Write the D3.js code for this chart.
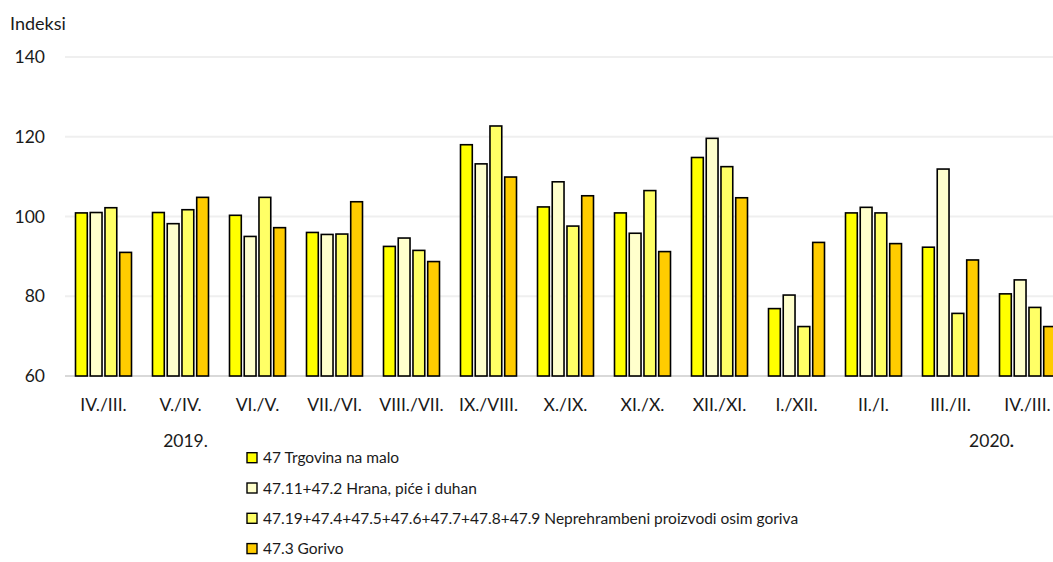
<!DOCTYPE html>
<html>
<head>
<meta charset="utf-8">
<script src="https://cdn.jsdelivr.net/npm/d3@7"></script>
<style>
  body { margin: 0; background: #fff; }
  svg text { font-family: Lato, "Open Sans", sans-serif; fill: #1a1a1a; }
</style>
</head>
<body>
<div id="chart"></div>
<script>
// categories (month over previous month)
const categories = ["IV./III.", "V./IV.", "VI./V.", "VII./VI.", "VIII./VII.", "IX./VIII.", "X./IX.",
  "XI./X.", "XII./XI.", "I./XII.", "II./I.", "III./II.", "IV./III."];

const seriesNames = [
  "47 Trgovina na malo",
  "47.11+47.2 Hrana, piće i duhan",
  "47.19+47.4+47.5+47.6+47.7+47.8+47.9 Neprehrambeni proizvodi osim goriva",
  "47.3 Gorivo"
];

const retail   = [100.9, 101.0, 100.3, 96.0, 92.5, 118.0, 102.4, 100.9, 114.8, 76.9, 100.9, 92.3, 80.6];
const food     = [101.0, 98.2, 95.0, 95.5, 94.6, 113.2, 108.7, 95.8, 119.6, 80.3, 102.3, 111.9, 84.1];
const nonFood  = [102.2, 101.7, 104.8, 95.6, 91.5, 122.7, 97.6, 106.5, 112.5, 72.4, 100.9, 75.7, 77.2];
const fuel     = [91.0, 104.8, 97.2, 103.7, 88.7, 109.9, 105.2, 91.2, 104.7, 93.5, 93.2, 89.1, 72.4];

const yTicks = [60, 80, 100, 120, 140];
const yearLabels = [{ text: "2019", index: 1 }, { text: "2020", index: 12 }];

const colors = ["#ffff00", "#ffffcc", "#ffff66", "#ffcc00"];

const width = 1053, height = 562;
const margin = { top: 57, left: 65, bottom: 186 };

const series = [retail, food, nonFood, fuel];

const svg = d3.select("#chart").append("svg")
  .attr("width", width)
  .attr("height", height);

// band scale runs past the right edge, like the cropped original
const step = 77;
const x = d3.scaleBand()
  .domain(d3.range(categories.length))
  .range([margin.left, margin.left + step * categories.length])
  .paddingInner(0).paddingOuter(0);

const xInner = d3.scaleBand()
  .domain(d3.range(series.length))
  .range([x.bandwidth() / 2 - 28, x.bandwidth() / 2 + 28])
  .paddingInner(0.2).paddingOuter(0);

const y = d3.scaleLinear()
  .domain([60, 140])
  .range([height - margin.bottom, margin.top]);

// gridlines
svg.append("g")
  .selectAll("line")
  .data(yTicks)
  .join("line")
    .attr("x1", margin.left)
    .attr("x2", width)
    .attr("y1", d => y(d))
    .attr("y2", d => y(d))
    .attr("stroke", d => d === 60 ? "#d9d9d9" : "#efefef")
    .attr("stroke-width", 2);

// y axis labels
const yAxis = d3.axisLeft(y).tickValues(yTicks).tickSize(0).tickPadding(0);
svg.append("g")
  .attr("transform", `translate(45,0)`)
  .call(yAxis)
  .call(g => g.select(".domain").remove())
  .call(g => g.selectAll("text").attr("font-size", 17.5).style("font-family", "Lato, sans-serif").attr("fill", "#1a1a1a"));

svg.append("text")
  .attr("x", 10)
  .attr("y", 30)
  .attr("font-size", 18)
  .text("Indeksi");

// bars
const groups = svg.append("g")
  .selectAll("g")
  .data(categories.map((c, i) => series.map((s, k) => ({ k, v: s[i] }))))
  .join("g")
    .attr("transform", (d, i) => `translate(${x(i)},0)`);

groups.selectAll("rect")
  .data(d => d)
  .join("rect")
    .attr("x", d => xInner(d.k))
    .attr("y", d => y(d.v))
    .attr("width", xInner.bandwidth())
    .attr("height", d => y(60) - y(d.v))
    .attr("fill", d => colors[d.k])
    .attr("stroke", "#000")
    .attr("stroke-width", 1.6);

// x axis labels
const xAxis = d3.axisBottom(x).tickFormat(i => categories[i]).tickSize(0).tickPadding(23);
svg.append("g")
  .attr("transform", `translate(0,${y(60)})`)
  .call(xAxis)
  .call(g => g.select(".domain").remove())
  .call(g => g.selectAll("text").attr("font-size", 17.5).style("font-family", "Lato, sans-serif").attr("fill", "#1a1a1a"));

// year labels under the axis (the 2020 one sits left of its column)
const yearShift = [5, -36];
const years = svg.append("g")
  .selectAll("text")
  .data(yearLabels)
  .join("text")
    .attr("x", (d, i) => x(d.index) + x.bandwidth() / 2 + yearShift[i])
    .attr("y", 447)
    .attr("text-anchor", "middle")
    .attr("font-size", 17.5);
years.append("tspan").text(d => d.text);
years.append("tspan")
  .attr("font-weight", (d, i) => i === 1 ? "bold" : null)
  .text(".");

// legend
const legend = svg.append("g")
  .attr("transform", "translate(247,0)")
  .selectAll("g")
  .data(seriesNames)
  .join("g")
    .attr("transform", (d, i) => `translate(0,${457.7 + i * 30.3})`);

legend.append("rect")
  .attr("x", 0)
  .attr("y", -5)
  .attr("width", 10)
  .attr("height", 10)
  .attr("fill", (d, i) => colors[i])
  .attr("stroke", "#000")
  .attr("stroke-width", 1.4);

legend.append("text")
  .attr("x", 16)
  .attr("y", 0)
  .attr("dy", "0.36em")
  .attr("font-size", 15.5)
  .text(d => d);
</script>
</body>
</html>
